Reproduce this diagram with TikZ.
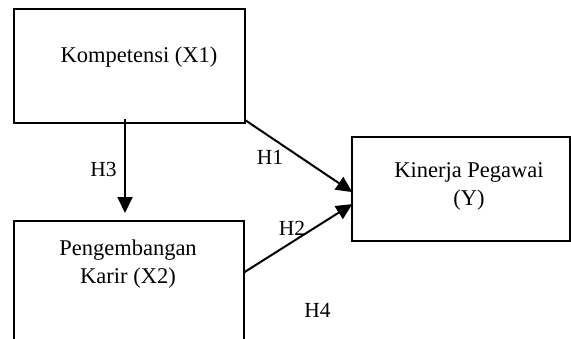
\documentclass[tikz,border=0pt]{standalone}
\usepackage{fontspec}
\setmainfont{Liberation Serif}
\usetikzlibrary{arrows.meta,calc}
\begin{document}
\begin{tikzpicture}[x=1pt,y=-1pt,
  box/.style={draw=black,line width=2pt,rectangle,inner sep=0pt,outer sep=0pt},
  txt/.style={font=\fontsize{22.5}{28}\selectfont,align=center,inner sep=0pt},
  hlab/.style={font=\fontsize{21.5}{25}\selectfont,inner sep=0pt},
  arr/.style={line width=2pt,-{Triangle[length=16pt,width=15pt]}}]
\useasboundingbox (0,0) rectangle (571,338);
\clip (0,0) rectangle (571,338);
\fill[white] (0,0) rectangle (571,338);
% boxes
\node[box,minimum width=231pt,minimum height=114pt] (x1) at (129.5,66) {};
\node[box,minimum width=230pt,minimum height=139pt] (x2) at (129,290.5) {};
\node[box,minimum width=217.5pt,minimum height=104pt] (y) at (461,189) {};
% texts
\node[txt] (x1t) at (139,57) {Kompetensi (X1)};
\node[txt] (x2t) at (128,264) {Pengembangan\\Karir (X2)};
\node[txt] (yt) at (469,186) {Kinerja Pegawai\\(Y)};
% connector ends
\coordinate (h3s) at (125,119);
\coordinate (h3e) at (125,213);
\coordinate (h1s) at ($(x1.south east)+(0,-3)$);
\coordinate (h1e) at ($(y.north west)!0.53!(y.south west)$);
\coordinate (h2s) at ($(x2.north east)!0.37!(x2.south east)$);
\coordinate (h2e) at ($(y.north west)!0.645!(y.south west)$);
\draw[arr] (h3s) -- (h3e);
\draw[arr] (h1s) -- (h1e);
\draw[arr] (h2s) -- (h2e);
% labels
\node[hlab] (H3) at (103.5,169) {H3};
\node[hlab] (H1) at (270,157.5) {H1};
\node[hlab] (H2) at (292,228) {H2};
\node[hlab] (H4) at (317.5,310.5) {H4};
\end{tikzpicture}
\end{document}
